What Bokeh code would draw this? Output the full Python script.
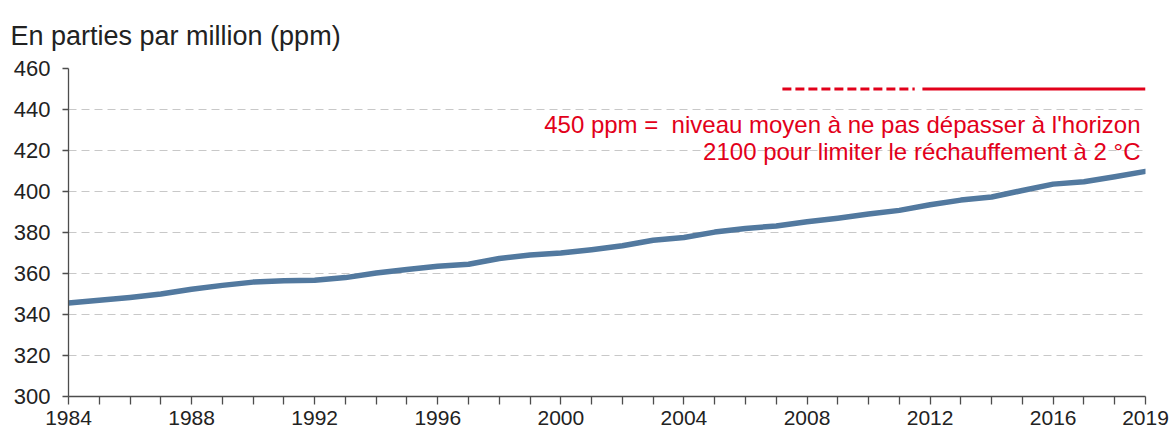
from bokeh.plotting import figure
from bokeh.models import FixedTicker, Range1d, ColumnDataSource
from bokeh.core.properties import value
from bokeh.embed import file_html
from bokeh.resources import INLINE

# ---- data ----
years = list(range(1984, 2020))
co2_ppm = [345.6, 346.9, 348.3, 350.0, 352.3, 354.2, 355.8, 356.5, 356.7, 358.0,
           360.2, 362.0, 363.5, 364.5, 367.3, 369.0, 370.0, 371.6, 373.5, 376.2,
           377.6, 380.2, 382.0, 383.2, 385.2, 387.0, 389.0, 390.8, 393.5, 395.8,
           397.3, 400.5, 403.6, 404.8, 407.2, 409.8]
x_tick_years = list(range(1984, 2020))
x_label_years = [1984, 1988, 1992, 1996, 2000, 2004, 2008, 2012, 2016, 2019]
y_ticks = [300, 320, 340, 360, 380, 400, 420, 440, 460]
target_level = 450
target_dashed_years = [2007.2, 2011.5]
target_solid_years = [2011.75, 2019]
note_lines = ["450 ppm =\u00a0 niveau moyen à ne pas dépasser à l'horizon",
              "2100 pour limiter le réchauffement à 2 °C"]
title_text = "En parties par million (ppm)"

FONT = "Liberation Sans"
RED = "#e2001a"
BLUE = "#52799f"
AX = "#4d4d4d"

p = figure(width=1169, height=435,
           x_range=Range1d(1984, 2019), y_range=Range1d(300, 460),
           output_backend="svg", toolbar_location=None,
           min_border_left=68, min_border_right=24, min_border_top=68,
           min_border_bottom=39)
p.title.text = title_text
p.title.text_font = FONT
p.title.text_font_size = "27px"
p.title.text_font_style = "normal"
p.title.text_color = "#222222"
p.title.align = "left"
p.title.vertical_align = "top"
p.title.offset = -58
p.title.standoff = 31
p.outline_line_color = None
p.background_fill_color = "white"
p.border_fill_color = "white"

# grid
p.xgrid.grid_line_color = None
p.ygrid.ticker = FixedTicker(ticks=y_ticks)
p.ygrid.grid_line_color = "#c8c8c8"
p.ygrid.grid_line_dash = "8 5"
p.ygrid.grid_line_width = 1

# x axis
p.xaxis.ticker = FixedTicker(ticks=x_tick_years)
p.xaxis.major_label_overrides = {yv: (str(yv) if yv in x_label_years else "")
                                 for yv in x_tick_years}
p.xaxis.major_tick_out = 8
p.xaxis.major_tick_in = 0
p.xaxis.minor_tick_line_color = None
p.xaxis.major_label_standoff = 6
p.xaxis.major_label_text_font = FONT
p.xaxis.major_label_text_font_size = "21px"
p.xaxis.major_label_text_color = "#222222"
p.xaxis.axis_line_color = AX
p.xaxis.major_tick_line_color = AX
p.xaxis.axis_line_width = 1.3
p.xaxis.major_tick_line_width = 1.3

# y axis
p.yaxis.ticker = FixedTicker(ticks=y_ticks)
p.yaxis.major_tick_out = 6
p.yaxis.major_tick_in = 0
p.yaxis.minor_tick_line_color = None
p.yaxis.major_label_standoff = 12
p.yaxis.major_label_text_font = FONT
p.yaxis.major_label_text_font_size = "22px"
p.yaxis.major_label_text_color = "#222222"
p.yaxis.axis_line_color = AX
p.yaxis.major_tick_line_color = AX
p.yaxis.axis_line_width = 1.3
p.yaxis.major_tick_line_width = 1.3

# CO2 series
p.line(years, co2_ppm, line_width=5.5, color=BLUE, line_join="round", line_cap="round")

# 450 ppm target line
p.line(target_dashed_years, [target_level] * 2, line_width=3, color=RED, line_dash="9 4")
p.line(target_solid_years, [target_level] * 2, line_width=3, color=RED)

note_src = ColumnDataSource(dict(x=[2019, 2019], y=[432.6, 419.6], t=note_lines))
p.text(x="x", y="y", text="t", source=note_src, x_offset=-5,
       text_align="right", text_baseline="middle",
       text_font=value(FONT), text_font_size="24px", text_color=RED)

open("out.html", "w").write(file_html(p, INLINE))
